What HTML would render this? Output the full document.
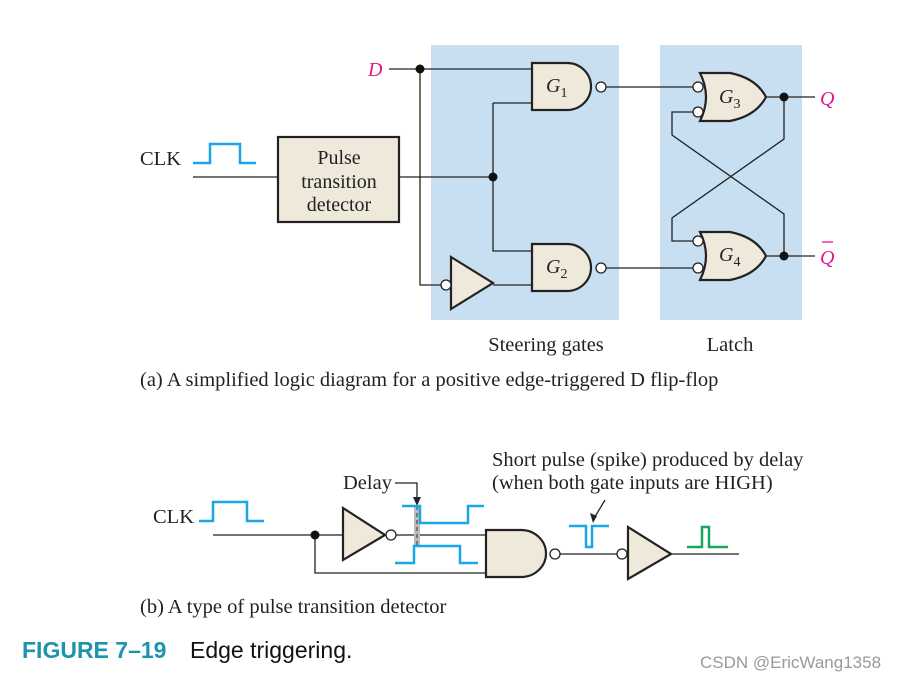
<!DOCTYPE html>
<html><head><meta charset="utf-8"><style>
body{margin:0;background:#fff}
svg{display:block}
text{font-family:"Liberation Serif",serif;fill:#222}
</style></head><body>
<svg width="897" height="681" viewBox="0 0 897 681" xmlns="http://www.w3.org/2000/svg">
<rect x="431" y="45" width="188" height="275" fill="#c8dff2"/>
<rect x="660" y="45" width="142" height="275" fill="#c8dff2"/>
<g stroke="#222" stroke-width="1.3" fill="none">
<path d="M389 69H532M420 69V285H441"/>
<path d="M193 177H278M400 177H493M493 103V251H532M493 103H532"/>
<path d="M493 285H532"/>
<path d="M606 87H693M606 268H693"/>
<path d="M693 112H672V135L784 214V256M784 97V139L672 218V241H693"/>
<path d="M766 97H815M766 256H815"/>
</g>
<g stroke="#222" stroke-width="2.2" fill="#efe9dc">
<rect x="278" y="137" width="121" height="85"/>
<path d="M532 63H567A24 23.5 0 0 1 567 110H532Z"/>
<path d="M532 244H567A24 23.5 0 0 1 567 291H532Z"/>
<path d="M451 257L493 283L451 309Z"/>
<path d="M700 73H730Q756 78 766 97Q756 116 730 121H700Q712 97 700 73Z"/>
<path d="M700 232H730Q756 237 766 256Q756 275 730 280H700Q712 256 700 232Z"/>
</g>
<g stroke="#222" stroke-width="1.3" fill="#fff">
<circle cx="601" cy="87" r="5"/><circle cx="601" cy="268" r="5"/>
<circle cx="446" cy="285" r="5"/>
<circle cx="698" cy="87" r="5"/><circle cx="698" cy="112" r="5"/>
<circle cx="698" cy="241" r="5"/><circle cx="698" cy="268" r="5"/>
</g>
<g fill="#111"><circle cx="420" cy="69" r="4.5"/><circle cx="493" cy="177" r="4.5"/><circle cx="784" cy="97" r="4.5"/><circle cx="784" cy="256" r="4.5"/></g>
<path d="M193 163H210V144H240V163H256" stroke="#1aa7e8" stroke-width="2.5" fill="none"/>
<text x="140" y="165" font-size="20.5">CLK</text>
<text x="339" y="164" font-size="20" text-anchor="middle">Pulse</text>
<text x="339" y="188" font-size="20" text-anchor="middle">transition</text>
<text x="339" y="211" font-size="20" text-anchor="middle">detector</text>
<text x="368" y="76" font-size="20" font-style="italic" style="fill:#e0168c">D</text>
<text x="546" y="92" font-size="20" font-style="italic">G<tspan font-size="14" dy="5" font-style="normal">1</tspan></text>
<text x="546" y="273" font-size="20" font-style="italic">G<tspan font-size="14" dy="5" font-style="normal">2</tspan></text>
<text x="719" y="103" font-size="20" font-style="italic">G<tspan font-size="14" dy="5" font-style="normal">3</tspan></text>
<text x="719" y="261" font-size="20" font-style="italic">G<tspan font-size="14" dy="5" font-style="normal">4</tspan></text>
<text x="820" y="105" font-size="20" font-style="italic" style="fill:#e0168c">Q</text>
<text x="820" y="264" font-size="20" font-style="italic" style="fill:#e0168c">Q</text>
<path d="M822 242H833" stroke="#e0168c" stroke-width="1.3"/>
<text x="546" y="351" font-size="20.5" text-anchor="middle">Steering gates</text>
<text x="730" y="351" font-size="20.5" text-anchor="middle">Latch</text>
<text x="140" y="386" font-size="20.5">(a) A simplified logic diagram for a positive edge-triggered D flip-flop</text>
<g stroke="#222" stroke-width="1.3" fill="none">
<path d="M213 535H343M315 535V573H486M396 535H486M560 554H617M671 554H739"/>
<path d="M395 483H417V500"/>
<path d="M605 500L593 520"/>
</g>
<path d="M417 506L413 497H421Z" fill="#222"/>
<path d="M593 523L590 513L597 516Z" fill="#222"/>
<rect x="414" y="506" width="6" height="40" fill="#bbb"/>
<path d="M417 506V546" stroke="#555" stroke-dasharray="4 3" stroke-width="1.3"/>
<g stroke="#222" stroke-width="2.2" fill="#efe9dc">
<path d="M343 508L385 535L343 560Z"/>
<path d="M486 530H521A25 23.5 0 0 1 521 577H486Z"/>
<path d="M628 527L671 554L628 579Z"/>
</g>
<g stroke="#222" stroke-width="1.3" fill="#fff">
<circle cx="391" cy="535" r="5"/><circle cx="555" cy="554" r="5"/><circle cx="622" cy="554" r="5"/>
</g>
<circle cx="315" cy="535" r="4.5" fill="#111"/>
<g stroke="#1aa7e8" stroke-width="2.5" fill="none">
<path d="M199 521H213V502H247V521H264"/>
<path d="M402 506H420V523H468V506H484"/>
<path d="M395 563H414V546H460V563H478"/>
<path d="M569 526H586V547H592V526H609"/>
</g>
<path d="M687 547H702V527H709V547H728" stroke="#1aa55a" stroke-width="2.5" fill="none"/>
<text x="153" y="523" font-size="20.5">CLK</text>
<text x="343" y="489" font-size="20.5">Delay</text>
<text x="492" y="466" font-size="20.5">Short pulse (spike) produced by delay</text>
<text x="492" y="489" font-size="20.5">(when both gate inputs are HIGH)</text>
<text x="140" y="613" font-size="20.5">(b) A type of pulse transition detector</text>
<text x="22" y="658" font-size="23" font-weight="bold" style="font-family:'Liberation Sans',sans-serif;fill:#1b95ae">FIGURE 7–19</text>
<text x="190" y="658" font-size="23" style="font-family:'Liberation Sans',sans-serif;fill:#111">Edge triggering.</text>
<text x="700" y="668" font-size="17" style="font-family:'Liberation Sans',sans-serif;fill:#999">CSDN @EricWang1358</text>
</svg>
</body></html>
